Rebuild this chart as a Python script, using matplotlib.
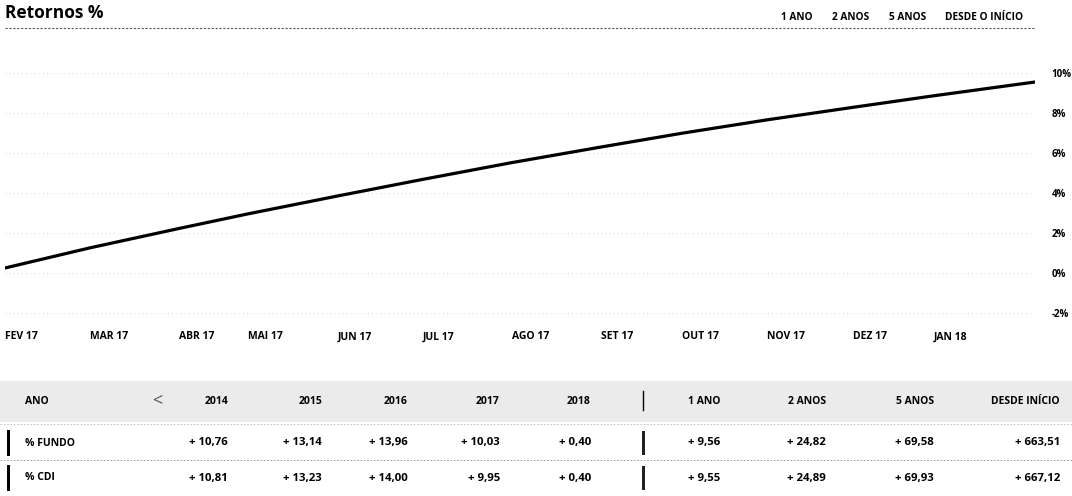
import matplotlib.pyplot as plt
import numpy as np

plt.rcParams['font.family'] = ['Open Sans', 'DejaVu Sans']

# cumulative return (%) read at the start of each month, trading-day index on x
day_index = [0, 21, 43, 60, 82, 103, 125, 147, 167, 188, 209, 229, 254]
retorno = [0.25, 1.26, 2.23, 2.96, 3.85, 4.68, 5.52, 6.30, 6.99, 7.66, 8.28, 8.86, 9.55]
month_labels = ['FEV 17', 'MAR 17', 'ABR 17', 'MAI 17', 'JUN 17', 'JUL 17',
                'AGO 17', 'SET 17', 'OUT 17', 'NOV 17', 'DEZ 17', 'JAN 18']
y_ticks = [-2, 0, 2, 4, 6, 8, 10]

# table data
anos = ['2014', '2015', '2016', '2017', '2018']
periodos = ['1 ANO', '2 ANOS', '5 ANOS', 'DESDE INÍCIO']
row_names = ['% FUNDO', '% CDI']
fundo_anos = ['10,76', '13,14', '13,96', '10,03', '0,40']
cdi_anos = ['10,81', '13,23', '14,00', '9,95', '0,40']
fundo_periodos = ['9,56', '24,82', '69,58', '663,51']
cdi_periodos = ['9,55', '24,89', '69,93', '667,12']

W, H = 1072, 496
fig = plt.figure(figsize=(W / 100, H / 100), dpi=100)

# background axes in pixel coordinates for header and table
bg = fig.add_axes([0, 0, 1, 1])
bg.set_xlim(0, W)
bg.set_ylim(H, 0)
bg.axis('off')

bg.text(5, 13, 'Retornos %', fontsize=12.5, fontweight='bold', va='center', ha='left')
bg.plot([5, 1035], [28, 28], color='#555555', lw=0.8, ls=(0, (2, 1.5)))
for lbl, x in zip(['1 ANO', '2 ANOS', '5 ANOS', 'DESDE O INÍCIO'], [781, 832, 889, 945]):
    bg.text(x, 17, lbl, fontsize=7.3, fontweight='bold', va='center', ha='left')

# table header
bg.add_patch(plt.Rectangle((0, 381), W, 41, color='#ebebeb', lw=0))
bg.plot([0, W], [424, 424], color='#bbbbbb', lw=0.6, ls=(0, (2, 2)))
bg.plot([0, W], [460, 460], color='#888888', lw=0.6, ls=(0, (2, 2)))
bg.text(25, 401, 'ANO', fontsize=7.5, fontweight='bold', va='center')
bg.text(157, 400, '<', fontsize=13, color='#555555', va='center', ha='center')
year_right = [228, 322, 408, 500, 591]
per_right = [720, 826, 934, 1060]
for x, t in zip(year_right, anos):
    bg.text(x, 401, t, fontsize=7.5, fontweight='bold', va='center', ha='right')
for x, t in zip(per_right, periodos):
    bg.text(x, 401, t, fontsize=7.5, fontweight='bold', va='center', ha='right')
bg.plot([643, 643], [391, 410], color='black', lw=1)

rows_y = [443, 478]
for ry, name, va_, vp in zip(rows_y, row_names, [fundo_anos, cdi_anos], [fundo_periodos, cdi_periodos]):
    bg.add_patch(plt.Rectangle((7, ry - 13), 3, 26, color='black', lw=0))
    bg.add_patch(plt.Rectangle((642, ry - 12), 3, 24, color='#222222', lw=0))
    bg.text(25, ry, name, fontsize=7.5, fontweight='bold', va='center')
    for x, v in zip(year_right, va_):
        bg.text(x, ry, '+ ' + v, fontsize=8.2, fontweight='bold', va='center', ha='right')
    for x, v in zip(per_right, vp):
        bg.text(x, ry, '+ ' + v, fontsize=8.2, fontweight='bold', va='center', ha='right')

# line chart
ax_top, ax_bot = 50, 320
ax = fig.add_axes([5 / W, 1 - ax_bot / H, 1030 / W, (ax_bot - ax_top) / H])
ax.plot(day_index, retorno, color='black', lw=2.3, solid_capstyle='round')
ax.set_xlim(day_index[0], day_index[-1])
ax.set_ylim(-2 - 7 / 20, 10 + 23 / 20)
ax.set_facecolor('none')
for s in ax.spines.values():
    s.set_visible(False)
ax.yaxis.tick_right()
ax.tick_params(axis='y', length=0, pad=12)
ax.tick_params(axis='x', length=0, pad=14)
ax.set_yticks(y_ticks)
ax.set_yticklabels([f'{v}%' for v in y_ticks], fontsize=7, fontweight='bold')
ax.set_xticks(day_index[:-1])
ax.set_xticklabels(month_labels, fontsize=7.5, fontweight='bold', ha='left')
for lab in ax.get_xticklabels():
    lab.set_verticalalignment('baseline')
ax.grid(axis='y', color='#c8c8c8', lw=0.6, ls=(0, (1, 4)))
ax.grid(axis='x', visible=False)

fig.savefig('out.png', dpi=100)
